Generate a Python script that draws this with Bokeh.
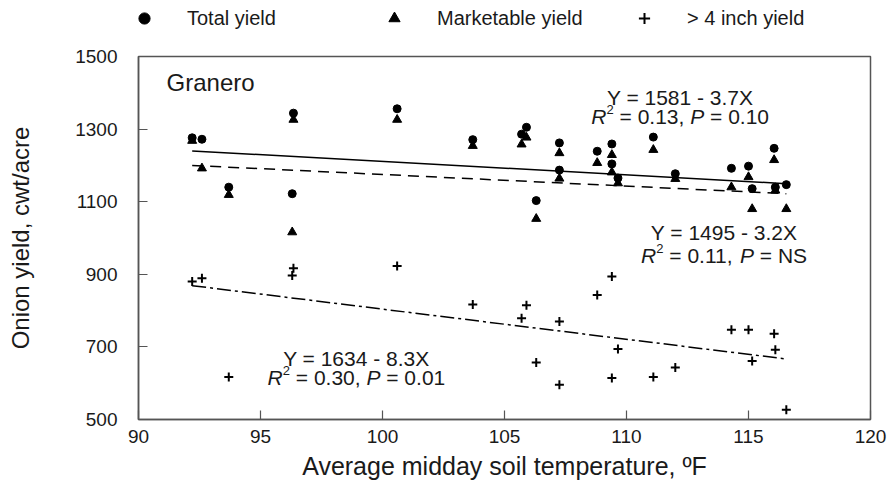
import numpy as np
from bokeh.plotting import figure
from bokeh.layouts import column
from bokeh.models import Range1d, Legend, LegendItem, Label, FixedTicker
from bokeh.embed import file_html
from bokeh.resources import INLINE

# ---------------- data ----------------
temperature = [92.2, 92.6, 93.7, 96.35, 96.3, 100.6, 103.7, 105.7, 105.9, 106.3,
               107.25, 107.25, 108.8, 109.4, 109.4, 109.65, 111.1, 112.0, 114.3,
               115.0, 115.15, 116.05, 116.1, 116.55]
total_yield = [1276, 1272, 1140, 1344, 1122, 1356, 1271, 1286, 1305, 1103,
               1262, 1187, 1239, 1259, 1204, 1165, 1278, 1177, 1192,
               1198, 1136, 1247, 1140, 1147]
marketable_yield = [1268, 1192, 1119, 1326, 1016, 1326, 1254, 1258, 1277, 1053,
                    1234, 1164, 1207, 1229, 1181, 1151, 1243, 1163, 1140,
                    1168, 1080, 1215, 1131, 1080]
large_yield = [880, 889, 617, 917, 897, 923, 817, 779, 815, 657,
               770, 596, 843, 894, 614, 694, 617, 643, 747,
               747, 661, 736, 692, 527]

series_names = ["Total yield", "Marketable yield", "> 4 inch yield"]
fit_intercepts = [1581, 1495, 1634]
fit_slopes = [-3.7, -3.2, -8.3]
fit_r2 = ["0.13", "0.11", "0.30"]
fit_p = ["0.10", "NS", "0.01"]

x_ticks = [90, 95, 100, 105, 110, 115, 120]
y_ticks = [500, 700, 900, 1100, 1300, 1500]

cultivar = "Granero"
x_title = "Average midday soil temperature, \u00baF"
y_title = "Onion yield, cwt/acre"

# ---------------- styling ----------------
FONT = "Liberation Sans"
INK = "#1a1a1a"
AXIS = "#555555"
LEG_H = 36

marker_styles = [dict(marker="circle", size=8, fill_color="black", line_color="black"),
                 dict(marker="triangle", size=9, fill_color="black", line_color="black"),
                 dict(marker="cross", size=9, line_color="black", line_width=2)]
series_values = [total_yield, marketable_yield, large_yield]

# ---------------- main plot ----------------
p = figure(width=890, height=493 - LEG_H, output_backend="svg", toolbar_location=None,
           title=None,
           x_range=Range1d(90, 120), y_range=Range1d(500, 1500),
           min_border_left=138, min_border_right=20, min_border_top=56 - LEG_H,
           min_border_bottom=74, background_fill_color="white",
           border_fill_color="white")
p.grid.visible = False
p.outline_line_color = AXIS
p.outline_line_width = 1.5

for ax in (p.xaxis[0], p.yaxis[0]):
    ax.major_tick_in = 9
    ax.major_tick_out = 0
    ax.minor_tick_line_color = None
    ax.axis_line_color = AXIS
    ax.axis_line_width = 1.5
    ax.major_tick_line_color = AXIS
    ax.major_tick_line_width = 1.2
    ax.major_label_text_font = FONT
    ax.major_label_text_font_size = "19px"
    ax.major_label_text_color = INK
    ax.axis_label_text_font = FONT
    ax.axis_label_text_font_style = "normal"
    ax.axis_label_text_color = INK

p.xaxis.ticker = FixedTicker(ticks=x_ticks)
p.yaxis.ticker = FixedTicker(ticks=y_ticks)
p.xaxis.axis_label = x_title
p.yaxis.axis_label = y_title
p.xaxis.major_label_standoff = 10
p.xaxis.axis_label_standoff = 6
p.xaxis.axis_label_text_font_size = "25px"
p.yaxis.major_label_standoff = 21
p.yaxis.axis_label_standoff = 38
p.yaxis.axis_label_text_font_size = "24px"

# regression lines
x_line = np.array([min(temperature), max(temperature)])
dashes = ["solid", "11 7", "14 4 3 4"]
for a, b, d in zip(fit_intercepts, fit_slopes, dashes):
    p.line(x_line, a + b * x_line, line_color="black", line_width=1.5, line_dash=d)

# points
for ys, st in zip(series_values, marker_styles):
    p.scatter(temperature, ys, **st)

# annotations
W = {' ': 278, '=': 584, '.': 278, ',': 278, '-': 333, 'Y': 667, 'X': 667,
     'R': 722, 'P': 667, 'N': 722, 'S': 667}


def tw(s, size):
    return sum(W.get(c, 556) for c in s) / 1000.0 * size


EQ_SIZE = 21
SUP_SIZE = 13


def add_rich(x, y, segments):
    sizes = [SUP_SIZE if k == "sup" else EQ_SIZE for _, k in segments]
    widths = [tw(t, s) for (t, _), s in zip(segments, sizes)]
    off = -sum(widths) / 2.0
    for (t, k), s, w in zip(segments, sizes, widths):
        lead = len(t) - len(t.lstrip(" "))
        txt = t.strip(" ")
        p.add_layout(Label(x=x, y=y, x_offset=off + tw(" " * lead, s),
                           y_offset=7 if k == "sup" else 0, text=txt,
                           text_font=FONT, text_font_size=f"{s}px",
                           text_font_style="italic" if k == "i" else "normal",
                           text_color=INK, text_align="left",
                           text_baseline="middle"))
        off += w


eq_pos = [(112.2, 1387, 1335), (114.0, 1015, 952), (98.93, 668, 616)]
for (ex, ey1, ey2), a, b, r2, pv in zip(eq_pos, fit_intercepts, fit_slopes,
                                        fit_r2, fit_p):
    line1 = f"Y = {a} - {abs(b)}X"
    p.add_layout(Label(x=ex, y=ey1, text=line1, text_font=FONT,
                       text_font_size=f"{EQ_SIZE}px", text_color=INK,
                       text_align="center", text_baseline="middle"))
    add_rich(ex, ey2, [("R", "i"), ("2", "sup"), (f" = {r2}, ", "n"),
                       ("P", "i"), (f" = {pv}", "n")])

p.add_layout(Label(x=91.15, y=1428, text=cultivar, text_font=FONT,
                   text_font_size="24px", text_color=INK, text_align="left",
                   text_baseline="middle"))

# ---------------- legend strip on top ----------------
# (its frame is aligned with the main frame by the column layout; the data
#  drawn here lies outside its 0..1 ranges, so only the legend shows)
pl = figure(width=890, height=LEG_H, output_backend="svg", toolbar_location=None,
            title=None, x_axis_location=None, y_axis_location=None,
            x_range=Range1d(0, 1), y_range=Range1d(0, 1), min_border=0,
            outline_line_color=None, background_fill_color="white",
            border_fill_color="white")
pl.grid.visible = False
leg_items = []
for name, ys, st in zip(series_names, series_values, marker_styles):
    r = pl.scatter(temperature, ys, **st)
    leg_items.append(LegendItem(label=name, renderers=[r]))
legend = Legend(items=leg_items, location=(-8, 4), orientation="horizontal",
                glyph_width=28, glyph_height=28, label_standoff=29,
                label_width=193, spacing=0, padding=0, margin=0,
                border_line_alpha=0, background_fill_alpha=0,
                label_text_font=FONT, label_text_font_size="20px",
                label_text_color=INK)
pl.add_layout(legend)

layout = column(pl, p, spacing=0)
open("out.html", "w").write(file_html(layout, INLINE))
